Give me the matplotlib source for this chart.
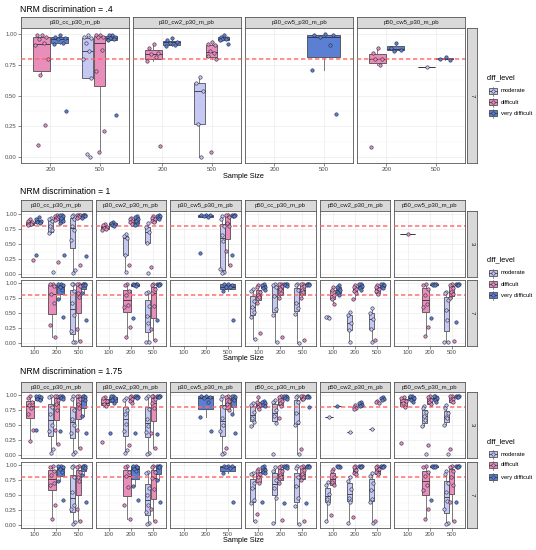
import matplotlib
matplotlib.use("Agg")
import matplotlib.pyplot as plt
from matplotlib.patches import Rectangle

plt.rcParams['font.family'] = ['Liberation Sans', 'DejaVu Sans']

levels = ["moderate", "difficult", "very difficult"]
level_colors = ["#c4c8f3", "#e98dbb", "#5b7fd2"]
cutoff = 0.80

# ---- NRM discrimination = .4  (row "7" only) ----
sizes_04 = [200, 500]
panels_04 = ["p30_cc_p30_m_pb", "p30_cw2_p30_m_pb", "p30_cw5_p30_m_pb", "p50_cw5_p30_m_pb"]

a04_p30cc_7 = [
    (200, "difficult", [0.99, 0.99, 0.98, 0.96, 0.93, 0.91, 0.80, 0.67, 0.26, 0.10]),
    (200, "very difficult", [0.99, 0.98, 0.97, 0.96, 0.93, 0.92, 0.37]),
    (500, "moderate", [0.99, 0.98, 0.97, 0.93, 0.86, 0.80, 0.64, 0.02, 0.00]),
    (500, "difficult", [0.99, 0.99, 0.98, 0.98, 0.87, 0.70, 0.21, 0.04]),
    (500, "very difficult", [0.99, 0.99, 0.98, 0.97, 0.96, 0.95, 0.34]),
]
a04_p30cw2_7 = [
    (200, "difficult", [0.92, 0.89, 0.85, 0.84, 0.81, 0.78, 0.09]),
    (200, "very difficult", [0.97, 0.95, 0.94, 0.93, 0.91, 0.90]),
    (500, "moderate", [0.65, 0.60, 0.54, 0.27, 0.00]),
    (500, "difficult", [0.94, 0.92, 0.91, 0.86, 0.85, 0.82, 0.80, 0.04]),
    (500, "very difficult", [0.99, 0.98, 0.97, 0.96, 0.96, 0.95, 0.92]),
]
a04_p30cw5_7 = [
    (500, "very difficult", [1.00, 0.99, 0.99, 0.98, 0.91, 0.71, 0.35]),
]
a04_p50cw5_7 = [
    (200, "difficult", [0.89, 0.85, 0.80, 0.80, 0.75, 0.08]),
    (200, "very difficult", [0.93, 0.89, 0.87, 0.86]),
    (500, "moderate", [0.73]),
    (500, "very difficult", [0.81, 0.80, 0.79]),
]

# ---- NRM discrimination = 1  (rows "3" and "7") ----
sizes_3 = [100, 200, 500]
panels_6 = ["p30_cc_p30_m_pb", "p30_cw2_p30_m_pb", "p30_cw5_p30_m_pb",
            "p50_cc_p30_m_pb", "p50_cw2_p30_m_pb", "p50_cw5_p30_m_pb"]

a1_p30cc_3 = [
    (100, "difficult", [0.92, 0.89, 0.86, 0.84, 0.83, 0.82, 0.23]),
    (100, "very difficult", [0.95, 0.91, 0.89, 0.87, 0.85, 0.32]),
    (200, "moderate", [0.94, 0.92, 0.88, 0.80, 0.73, 0.68, 0.04]),
    (200, "difficult", [0.99, 0.97, 0.95, 0.93, 0.91, 0.90, 0.20]),
    (200, "very difficult", [0.99, 0.98, 0.96, 0.93, 0.88, 0.85, 0.32]),
    (500, "moderate", [0.99, 0.97, 0.92, 0.80, 0.73, 0.56, 0.07, 0.01]),
    (500, "difficult", [0.99, 0.99, 0.98, 0.97, 0.95, 0.93, 0.15]),
    (500, "very difficult", [0.99, 0.99, 0.98, 0.97, 0.96, 0.93, 0.30]),
]
a1_p30cc_7 = [
    (200, "difficult", [0.99, 0.98, 0.95, 0.81, 0.66, 0.30, 0.10]),
    (200, "very difficult", [0.99, 0.99, 0.97, 0.94, 0.89, 0.74, 0.43]),
    (500, "moderate", [0.99, 0.98, 0.86, 0.66, 0.47, 0.20, 0.02, 0.01]),
    (500, "difficult", [0.99, 0.98, 0.95, 0.83, 0.76, 0.24, 0.04]),
    (500, "very difficult", [0.99, 0.99, 0.98, 0.97, 0.96, 0.83, 0.38]),
]
a1_p30cw2_3 = [
    (100, "difficult", [0.84, 0.81, 0.79, 0.77, 0.75, 0.74]),
    (100, "very difficult", [0.87, 0.85, 0.83, 0.81, 0.80]),
    (200, "moderate", [0.66, 0.63, 0.60, 0.31, 0.03]),
    (200, "difficult", [0.94, 0.91, 0.88, 0.86, 0.84, 0.15]),
    (200, "very difficult", [0.97, 0.95, 0.92, 0.88, 0.84, 0.82]),
    (500, "moderate", [0.85, 0.78, 0.70, 0.52, 0.01]),
    (500, "difficult", [0.96, 0.94, 0.91, 0.88, 0.86, 0.12]),
    (500, "very difficult", [0.99, 0.97, 0.96, 0.94, 0.92]),
]
a1_p30cw2_7 = [
    (200, "difficult", [0.99, 0.96, 0.86, 0.80, 0.63, 0.60, 0.27, 0.10]),
    (200, "very difficult", [0.99, 0.99, 0.98, 0.96, 0.95, 0.42]),
    (500, "moderate", [0.85, 0.83, 0.62, 0.45, 0.34, 0.02, 0.01]),
    (500, "difficult", [0.99, 0.97, 0.90, 0.83, 0.61, 0.24, 0.05]),
    (500, "very difficult", [0.99, 0.99, 0.98, 0.97, 0.96, 0.38]),
]
a1_p30cw5_3 = [
    (200, "very difficult", [0.99, 0.99, 0.98, 0.96, 0.95, 0.35]),
    (500, "moderate", [0.97, 0.92, 0.80, 0.65, 0.55, 0.08, 0.04, 0.01]),
    (500, "difficult", [0.99, 0.98, 0.95, 0.85, 0.80, 0.38, 0.15]),
    (500, "very difficult", [0.99, 0.99, 0.98, 0.97, 0.96, 0.31]),
]
a1_p30cw5_7 = [
    (500, "very difficult", [0.99, 0.99, 0.97, 0.94, 0.93, 0.86, 0.38]),
]
a1_p50cc_7 = [
    (100, "moderate", [0.90, 0.87, 0.70, 0.60, 0.51, 0.44, 0.06]),
    (100, "difficult", [0.96, 0.93, 0.85, 0.80, 0.77, 0.66, 0.16]),
    (100, "very difficult", [0.99, 0.96, 0.94, 0.91, 0.88]),
    (200, "moderate", [0.99, 0.97, 0.93, 0.78, 0.56, 0.47, 0.02]),
    (200, "difficult", [0.99, 0.98, 0.95, 0.90, 0.84, 0.75, 0.10]),
    (200, "very difficult", [0.99, 0.99, 0.98, 0.97, 0.95]),
    (500, "moderate", [0.99, 0.96, 0.88, 0.66, 0.58, 0.48, 0.00]),
    (500, "difficult", [0.99, 0.98, 0.95, 0.88, 0.85, 0.75, 0.05]),
    (500, "very difficult", [0.99, 0.99, 0.98, 0.97, 0.96]),
]
a1_p50cw2_7 = [
    (100, "moderate", [0.44, 0.43, 0.42]),
    (100, "difficult", [0.93, 0.88, 0.80, 0.74, 0.65]),
    (100, "very difficult", [0.97, 0.93, 0.88, 0.83, 0.80]),
    (200, "moderate", [0.52, 0.46, 0.33, 0.21, 0.02]),
    (200, "difficult", [0.97, 0.94, 0.90, 0.86, 0.84, 0.74]),
    (200, "very difficult", [0.99, 0.98, 0.95, 0.92, 0.88]),
    (500, "moderate", [0.59, 0.50, 0.40, 0.24, 0.01]),
    (500, "difficult", [0.97, 0.94, 0.90, 0.86, 0.82, 0.05]),
    (500, "very difficult", [0.99, 0.98, 0.96, 0.93, 0.91]),
]
a1_p50cw5_3 = [
    (100, "difficult", [0.67]),
]
a1_p50cw5_7 = [
    (200, "difficult", [0.99, 0.97, 0.90, 0.80, 0.65, 0.60, 0.26, 0.11]),
    (200, "very difficult", [0.99, 0.99, 0.98, 0.97, 0.96, 0.41]),
    (500, "moderate", [0.85, 0.83, 0.72, 0.55, 0.39, 0.02, 0.01]),
    (500, "difficult", [0.99, 0.97, 0.92, 0.85, 0.82, 0.75, 0.04]),
    (500, "very difficult", [0.99, 0.99, 0.98, 0.97, 0.96, 0.35]),
]

# ---- NRM discrimination = 1.75 ----
b_p30cc_3 = [
    (100, "difficult", [0.98, 0.95, 0.89, 0.84, 0.79, 0.69, 0.41, 0.23]),
    (100, "very difficult", [0.99, 0.98, 0.96, 0.94, 0.91, 0.41]),
    (200, "moderate", [0.99, 0.97, 0.80, 0.68, 0.50, 0.40, 0.10, 0.03]),
    (200, "difficult", [0.99, 0.98, 0.92, 0.85, 0.75, 0.42, 0.18]),
    (200, "very difficult", [0.99, 0.99, 0.97, 0.95, 0.93, 0.40]),
    (500, "moderate", [0.98, 0.93, 0.75, 0.60, 0.50, 0.36, 0.05, 0.01]),
    (500, "difficult", [0.99, 0.98, 0.93, 0.85, 0.79, 0.42, 0.11]),
    (500, "very difficult", [0.99, 0.99, 0.97, 0.94, 0.92, 0.65, 0.36]),
]
b_p30cc_7 = [
    (200, "difficult", [0.99, 0.97, 0.90, 0.83, 0.70, 0.67, 0.33, 0.10]),
    (200, "very difficult", [0.99, 0.99, 0.97, 0.93, 0.89, 0.74, 0.42]),
    (500, "moderate", [0.99, 0.96, 0.80, 0.55, 0.34, 0.27, 0.05, 0.01]),
    (500, "difficult", [0.99, 0.97, 0.88, 0.80, 0.74, 0.26, 0.06]),
    (500, "very difficult", [0.99, 0.99, 0.98, 0.96, 0.95, 0.84, 0.38]),
]
b_p30cw2_3 = [
    (100, "difficult", [0.97, 0.95, 0.90, 0.85, 0.82, 0.22]),
    (100, "very difficult", [0.99, 0.98, 0.95, 0.91, 0.87, 0.36]),
    (200, "moderate", [0.95, 0.92, 0.75, 0.68, 0.52, 0.40, 0.09, 0.03]),
    (200, "difficult", [0.99, 0.97, 0.94, 0.90, 0.87, 0.17]),
    (200, "very difficult", [0.99, 0.99, 0.97, 0.96, 0.95, 0.36]),
    (500, "moderate", [0.98, 0.95, 0.76, 0.60, 0.48, 0.38, 0.04, 0.01]),
    (500, "difficult", [0.99, 0.98, 0.93, 0.86, 0.79, 0.36, 0.11]),
    (500, "very difficult", [0.99, 0.99, 0.98, 0.97, 0.96, 0.35]),
]
b_p30cw2_7 = [
    (200, "difficult", [0.99, 0.97, 0.88, 0.82, 0.64, 0.33, 0.10]),
    (200, "very difficult", [0.99, 0.99, 0.97, 0.93, 0.90, 0.65, 0.42]),
    (500, "moderate", [0.89, 0.86, 0.62, 0.50, 0.33, 0.21, 0.03, 0.01]),
    (500, "difficult", [0.99, 0.97, 0.88, 0.78, 0.60, 0.26, 0.06]),
    (500, "very difficult", [0.99, 0.99, 0.98, 0.97, 0.96, 0.75, 0.38]),
]
b_p30cw5_3 = [
    (200, "very difficult", [0.99, 0.99, 0.97, 0.95, 0.88, 0.64, 0.40]),
    (500, "moderate", [0.98, 0.93, 0.80, 0.62, 0.50, 0.40, 0.04, 0.01]),
    (500, "difficult", [0.99, 0.97, 0.90, 0.85, 0.75, 0.11]),
    (500, "very difficult", [0.99, 0.99, 0.97, 0.94, 0.92, 0.69, 0.36]),
]
b_p30cw5_7 = [
    (500, "very difficult", [0.99, 0.99, 0.98, 0.96, 0.95, 0.86, 0.39]),
]
b_p50cc_3 = [
    (100, "moderate", [0.86, 0.84, 0.72, 0.62, 0.55, 0.48]),
    (100, "difficult", [0.96, 0.88, 0.83, 0.80, 0.77]),
    (100, "very difficult", [0.90, 0.88, 0.86, 0.84, 0.82]),
    (200, "moderate", [0.92, 0.88, 0.75, 0.65, 0.54, 0.01]),
    (200, "difficult", [0.98, 0.96, 0.90, 0.86, 0.82, 0.62]),
    (200, "very difficult", [0.99, 0.99, 0.97, 0.95, 0.93]),
    (500, "moderate", [0.99, 0.97, 0.88, 0.70, 0.55, 0.50, 0.01]),
    (500, "difficult", [0.99, 0.98, 0.96, 0.94, 0.93, 0.10]),
    (500, "very difficult", [0.99, 0.98, 0.97, 0.96, 0.80]),
]
b_p50cc_7 = [
    (100, "moderate", [0.87, 0.85, 0.70, 0.62, 0.41, 0.37, 0.07]),
    (100, "difficult", [0.94, 0.90, 0.85, 0.80, 0.70, 0.18]),
    (100, "very difficult", [0.99, 0.96, 0.92, 0.88, 0.86, 0.38]),
    (200, "moderate", [0.97, 0.90, 0.75, 0.62, 0.45, 0.03]),
    (200, "difficult", [0.99, 0.97, 0.90, 0.84, 0.80, 0.70, 0.09]),
    (200, "very difficult", [0.99, 0.99, 0.98, 0.96, 0.95, 0.37]),
    (500, "moderate", [0.99, 0.95, 0.80, 0.65, 0.45, 0.31, 0.01]),
    (500, "difficult", [0.99, 0.97, 0.92, 0.85, 0.80, 0.75, 0.07]),
    (500, "very difficult", [0.99, 0.99, 0.98, 0.97, 0.96, 0.37]),
]
b_p50cw2_3 = [
    (100, "moderate", [0.63]),
    (100, "very difficult", [0.82]),
    (200, "moderate", [0.39]),
    (200, "difficult", [0.83, 0.80, 0.78, 0.76]),
    (200, "very difficult", [0.88, 0.86, 0.84, 0.82]),
    (500, "moderate", [0.44]),
    (500, "difficult", [0.90, 0.88, 0.86]),
    (500, "very difficult", [0.97, 0.95, 0.93, 0.92]),
]
b_p50cw2_7 = [
    (100, "moderate", [0.71, 0.66, 0.52, 0.44, 0.36, 0.07]),
    (100, "difficult", [0.94, 0.90, 0.80, 0.72, 0.66, 0.17]),
    (100, "very difficult", [0.99, 0.98, 0.97, 0.96]),
    (200, "moderate", [0.80, 0.74, 0.60, 0.45, 0.38, 0.03]),
    (200, "difficult", [0.99, 0.97, 0.92, 0.87, 0.85, 0.13]),
    (200, "very difficult", [0.99, 0.99, 0.98, 0.97, 0.96]),
    (500, "moderate", [0.86, 0.82, 0.70, 0.58, 0.43, 0.38, 0.03]),
    (500, "difficult", [0.99, 0.97, 0.93, 0.88, 0.85, 0.07]),
    (500, "very difficult", [0.99, 0.99, 0.98, 0.97, 0.96]),
]
b_p50cw5_3 = [
    (100, "difficult", [0.97, 0.95, 0.90, 0.86, 0.80, 0.20]),
    (100, "very difficult", [0.99, 0.98, 0.95, 0.91, 0.88]),
    (200, "moderate", [0.82, 0.78, 0.72, 0.65, 0.59, 0.49, 0.02]),
    (200, "difficult", [0.99, 0.97, 0.92, 0.88, 0.85, 0.17]),
    (200, "very difficult", [0.99, 0.98, 0.95, 0.92, 0.89]),
    (500, "moderate", [0.83, 0.78, 0.70, 0.64, 0.61, 0.50, 0.01]),
    (500, "difficult", [0.99, 0.98, 0.94, 0.90, 0.88, 0.10]),
    (500, "very difficult", [0.99, 0.99, 0.98, 0.97, 0.96]),
]
b_p50cw5_7 = [
    (200, "difficult", [0.99, 0.97, 0.88, 0.82, 0.66, 0.58, 0.27, 0.10]),
    (200, "very difficult", [0.99, 0.99, 0.98, 0.97, 0.96, 0.41]),
    (500, "moderate", [0.90, 0.85, 0.70, 0.55, 0.40, 0.26, 0.04, 0.01]),
    (500, "difficult", [0.99, 0.97, 0.90, 0.80, 0.66, 0.38, 0.07]),
    (500, "very difficult", [0.99, 0.99, 0.98, 0.97, 0.96, 0.39]),
]

sections = [
    dict(title="NRM discrimination = .4", panels=panels_04, sizes=sizes_04, rows=["7"],
         data=[[a04_p30cc_7, a04_p30cw2_7, a04_p30cw5_7, a04_p50cw5_7]]),
    dict(title="NRM discrimination = 1", panels=panels_6, sizes=sizes_3, rows=["3", "7"],
         data=[[a1_p30cc_3, a1_p30cw2_3, a1_p30cw5_3, [], [], a1_p50cw5_3],
               [a1_p30cc_7, a1_p30cw2_7, a1_p30cw5_7, a1_p50cc_7, a1_p50cw2_7, a1_p50cw5_7]]),
    dict(title="NRM discrimination = 1.75", panels=panels_6, sizes=sizes_3, rows=["3", "7"],
         data=[[b_p30cc_3, b_p30cw2_3, b_p30cw5_3, b_p50cc_3, b_p50cw2_3, b_p50cw5_3],
               [b_p30cc_7, b_p30cw2_7, b_p30cw5_7, b_p50cc_7, b_p50cw2_7, b_p50cw5_7]]),
]

# pixel layout of each block (top strip, panel rows, titles, legend)
layout = [
    dict(title_y=10, strip=(17, 28), rows=[(28, 163)], xlab_y=177, leg_title=78, leg_keys=[91, 102, 113]),
    dict(title_y=192, strip=(200, 211), rows=[(211, 277), (280, 346)], xlab_y=358, leg_title=260, leg_keys=[273, 284, 295]),
    dict(title_y=372, strip=(382, 392), rows=[(392, 458), (462, 528)], xlab_y=541, leg_title=442, leg_keys=[454, 465, 477]),
]

W, H = 536, 550
fig = plt.figure(figsize=(W / 100, H / 100), dpi=100)
fig.patch.set_facecolor("white")


def px_axes(x0, y0, x1, y1):
    return fig.add_axes([x0 / W, 1 - y1 / H, (x1 - x0) / W, (y1 - y0) / H])


jit = [0.05, -0.28, 0.30, -0.12, 0.18, -0.35, 0.38, -0.05, 0.24, -0.22]
edge = "#333333"


def draw_panel(ax, groups, sizes, show_x, show_y):
    nx = len(sizes)
    ax.set_xlim(0.4, nx + 0.6)
    ax.set_ylim(-0.05, 1.05)
    ax.set_yticks([0, 0.25, 0.5, 0.75, 1.0])
    ax.set_yticks([0.125, 0.375, 0.625, 0.875], minor=True)
    ax.set_xticks(range(1, nx + 1))
    ax.grid(which="major", color="#EBEBEB", lw=0.5)
    ax.grid(which="minor", axis="y", color="#F5F5F5", lw=0.3)
    ax.set_axisbelow(True)
    for sp in ax.spines.values():
        sp.set_color("#555555")
        sp.set_linewidth(0.6)
    ax.tick_params(which="minor", length=0)
    ax.tick_params(which="major", length=2, width=0.4, color="#333333",
                   labelsize=4.3, labelcolor="#4D4D4D", pad=1,
                   left=show_y, labelleft=show_y, bottom=show_x, labelbottom=show_x)
    if show_y:
        ax.set_yticklabels(["0.00", "0.25", "0.50", "0.75", "1.00"])
    if show_x:
        ax.set_xticklabels([str(s) for s in sizes])

    for k, s in enumerate(sizes):
        here = [g for g in groups if g[0] == s]
        here.sort(key=lambda g: levels.index(g[1]))
        n = len(here)
        if n == 0:
            continue
        slot = 0.75 / n
        for i, (size, lev, vals) in enumerate(here):
            pos = k + 1 - 0.375 + slot * (i + 0.5)
            col = level_colors[levels.index(lev)]
            ax.boxplot(vals, positions=[pos], widths=slot * 0.9, patch_artist=True,
                       showfliers=False, showcaps=False, whis=1.5, manage_ticks=False,
                       boxprops=dict(facecolor=col, edgecolor=edge, lw=0.5),
                       medianprops=dict(color=edge, lw=0.6),
                       whiskerprops=dict(color="#666666", lw=0.6), zorder=2)
            xs = [pos + jit[j % len(jit)] * slot * 0.9 for j in range(len(vals))]
            ax.scatter(xs, vals, s=6, c=col, edgecolors="#2a2a40", linewidths=0.4, zorder=4)
    ax.axhline(cutoff, color="#FF6464", alpha=0.85, lw=1.2, ls=(0, (2.6, 1.6)), zorder=3)


x_left, x_right, gap = 21, 465, 4
over = fig.add_axes([0, 0, 1, 1])
over.set_xlim(0, W)
over.set_ylim(H, 0)
over.axis("off")

for sec, lay in zip(sections, layout):
    ncol = len(sec["panels"])
    pw = (x_right - x_left - gap * (ncol - 1)) / ncol
    nrow = len(sec["rows"])
    for c in range(ncol):
        x0 = x_left + c * (pw + gap)
        x1 = x0 + pw
        st = px_axes(x0, lay["strip"][0], x1, lay["strip"][1])
        st.set_facecolor("#D9D9D9")
        st.set_xticks([])
        st.set_yticks([])
        for sp in st.spines.values():
            sp.set_color("#555555")
            sp.set_linewidth(0.6)
        st.text(0.5, 0.5, sec["panels"][c], ha="center", va="center",
                fontsize=4.3, color="#1A1A1A", transform=st.transAxes)
        for r in range(nrow):
            y0, y1 = lay["rows"][r]
            ax = px_axes(x0, y0, x1, y1)
            draw_panel(ax, sec["data"][r][c], sec["sizes"], r == nrow - 1, c == 0)
    for r in range(nrow):
        y0, y1 = lay["rows"][r]
        rs = px_axes(467, y0, 477, y1)
        rs.set_facecolor("#D9D9D9")
        rs.set_xticks([])
        rs.set_yticks([])
        for sp in rs.spines.values():
            sp.set_color("#555555")
            sp.set_linewidth(0.6)
        rs.text(0.5, 0.5, sec["rows"][r], ha="center", va="center", rotation=-90,
                fontsize=4.3, color="#1A1A1A", transform=rs.transAxes)

    over.text(20, lay["title_y"], sec["title"], fontsize=6.2, va="center", ha="left")
    over.text((x_left + x_right) / 2, lay["xlab_y"], "Sample Size", fontsize=5.3,
              va="center", ha="center")
    over.text(487, lay["leg_title"], "diff_level", fontsize=5.3, va="center", ha="left")
    for lev, col, cy in zip(levels, level_colors, lay["leg_keys"]):
        over.add_patch(Rectangle((489, cy - 3), 8, 6, facecolor=col, edgecolor=edge, lw=0.5))
        over.plot([489, 497], [cy, cy], color=edge, lw=0.5)
        over.plot([493, 493], [cy - 4.5, cy - 3], color="#666666", lw=0.5)
        over.plot([493, 493], [cy + 3, cy + 4.5], color="#666666", lw=0.5)
        over.scatter([493], [cy], s=6, c=col, edgecolors="#2a2a40", linewidths=0.4, zorder=5)
        over.text(501, cy, lev, fontsize=4.2, va="center", ha="left")

fig.savefig("out.png", dpi=100)
